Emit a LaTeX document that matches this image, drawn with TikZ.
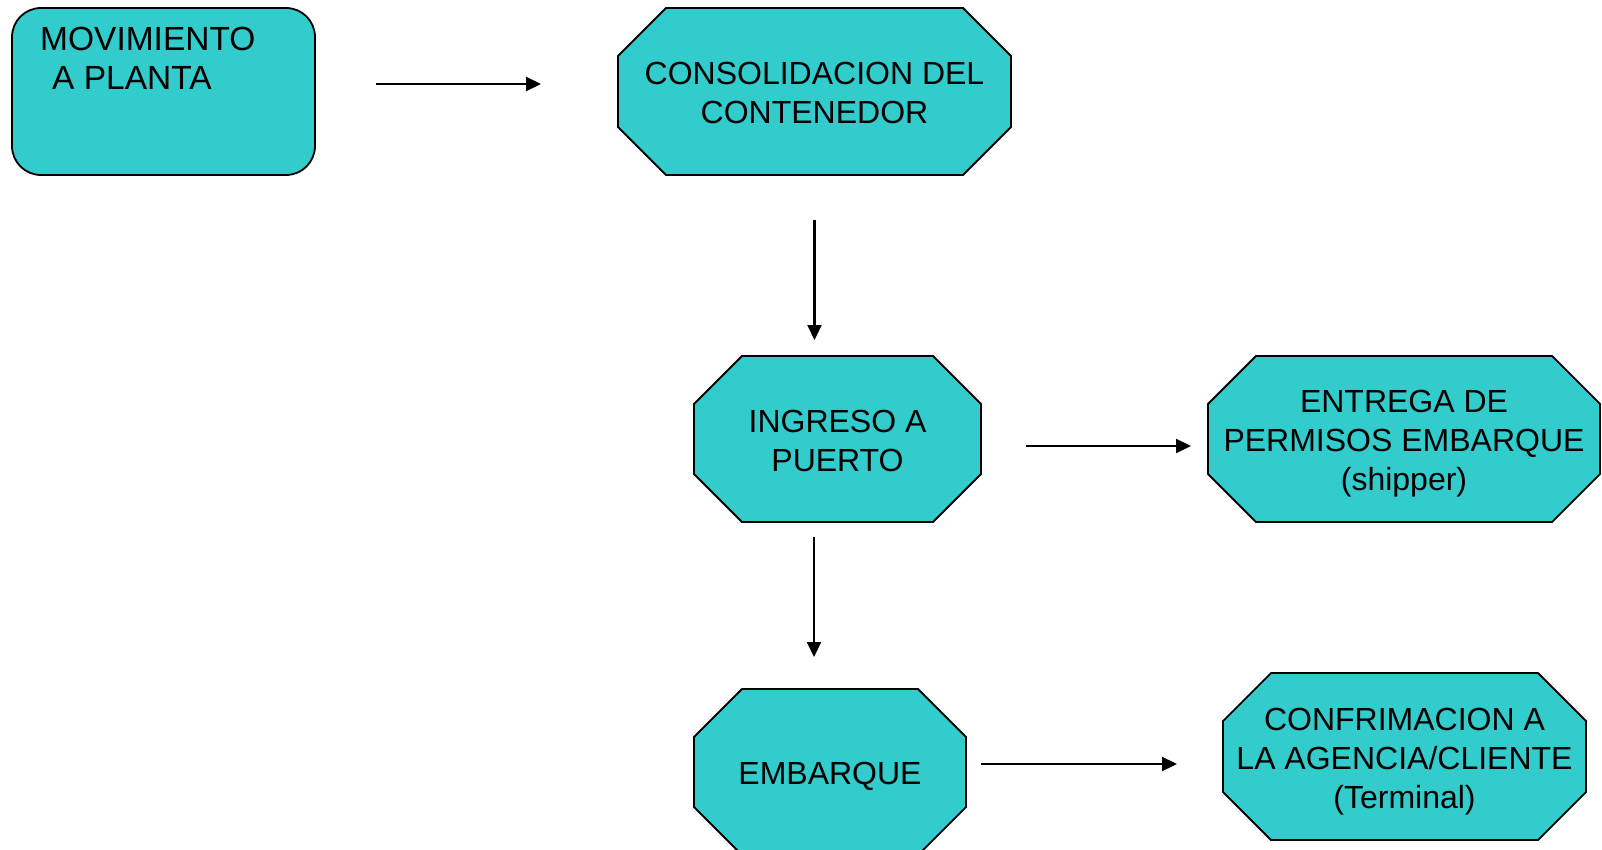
\documentclass[tikz,border=0pt]{standalone}
\usepackage{fontspec}
\setmainfont{Liberation Sans}
\usepackage{tikz}
\usetikzlibrary{positioning,arrows.meta,backgrounds}
\definecolor{boxfill}{RGB}{51,204,204}

\begin{document}
\begin{tikzpicture}[x=1pt,y=-1pt,
  oct/.style={rectangle,inner sep=0pt,outer sep=0pt},
  octtext/.style={align=center,inner sep=0pt,font=\fontsize{32}{39}\selectfont},
  octline/.style={draw,line width=1.8pt,fill=boxfill,line join=miter},
  flow/.style={line width=2.2pt,-{Triangle[length=15pt,width=14pt]}}]
\clip (0,0) rectangle (1602,850);
% first step, text sits at the top left
\node[draw,line width=1.8pt,fill=boxfill,rounded corners=29pt,minimum width=303pt,minimum height=167pt,
  inner sep=0pt,outer sep=0pt] (mov) at (163.5,91.5) {};
\node[anchor=north west,align=left,inner sep=0pt,font=\fontsize{33.5}{39}\selectfont] (movtxt) at (40,27)
  {MOVIMIENTO\\\hspace*{12pt}A PLANTA};
% octagons: frame nodes, outline drawn behind them
\node[oct,minimum width=393pt,minimum height=167pt,
  label={[octtext,yshift=-1pt]center:{CONSOLIDACION DEL\\CONTENEDOR}}] (cons) at (814.5,91.5) {};
\node[oct,minimum width=287pt,minimum height=166pt,
  label={[octtext,yshift=-2pt]center:{INGRESO A\\PUERTO}}] (ingr) at (837.5,439) {};
\node[oct,minimum width=392pt,minimum height=166pt,
  label={[octtext,yshift=-5pt]center:{ENTREGA DE\\PERMISOS EMBARQUE\\(shipper)}}] (entr) at (1404,439) {};
\node[oct,minimum width=272pt,minimum height=166pt,
  label={[octtext,yshift=-4pt]center:{EMBARQUE}}] (emb) at (830,772) {};
\node[oct,minimum width=363pt,minimum height=167pt,
  label={[octtext,yshift=-5.5pt]center:{CONFRIMACION A\\LA AGENCIA/CLIENTE\\(Terminal)}}] (conf) at (1404.5,756.5) {};
\begin{scope}[on background layer]
\foreach \n in {cons,ingr,entr,emb,conf}
  \draw[octline] ([xshift=48pt]\n.north west) -- ([xshift=-48pt]\n.north east) -- ([yshift=-48pt]\n.north east)
    -- ([yshift=48pt]\n.south east) -- ([xshift=-48pt]\n.south east) -- ([xshift=48pt]\n.south west)
    -- ([yshift=48pt]\n.south west) -- ([yshift=-48pt]\n.north west) -- cycle;
\end{scope}
% arrows, with gaps to the boxes
\draw[flow,shorten <=61pt,shorten >=77pt] ([yshift=7.5pt]mov.east) -- ([yshift=7.5pt]cons.west);
\draw[flow,shorten <=45pt,shorten >=16pt] (cons.south) -- (cons.south |- ingr.north);
\draw[flow,shorten <=45pt,shorten >=17pt] ([yshift=-7pt]ingr.east) -- ([yshift=-7pt]entr.west);
\draw[flow,shorten <=15pt,shorten >=32pt] ([xshift=-23.5pt]ingr.south) -- ([xshift=-16pt]emb.north);
\draw[flow,shorten <=15pt,shorten >=46pt] ([yshift=8pt]emb.east) -- ([yshift=8pt]conf.west |- emb.east);
\end{tikzpicture}
\end{document}
